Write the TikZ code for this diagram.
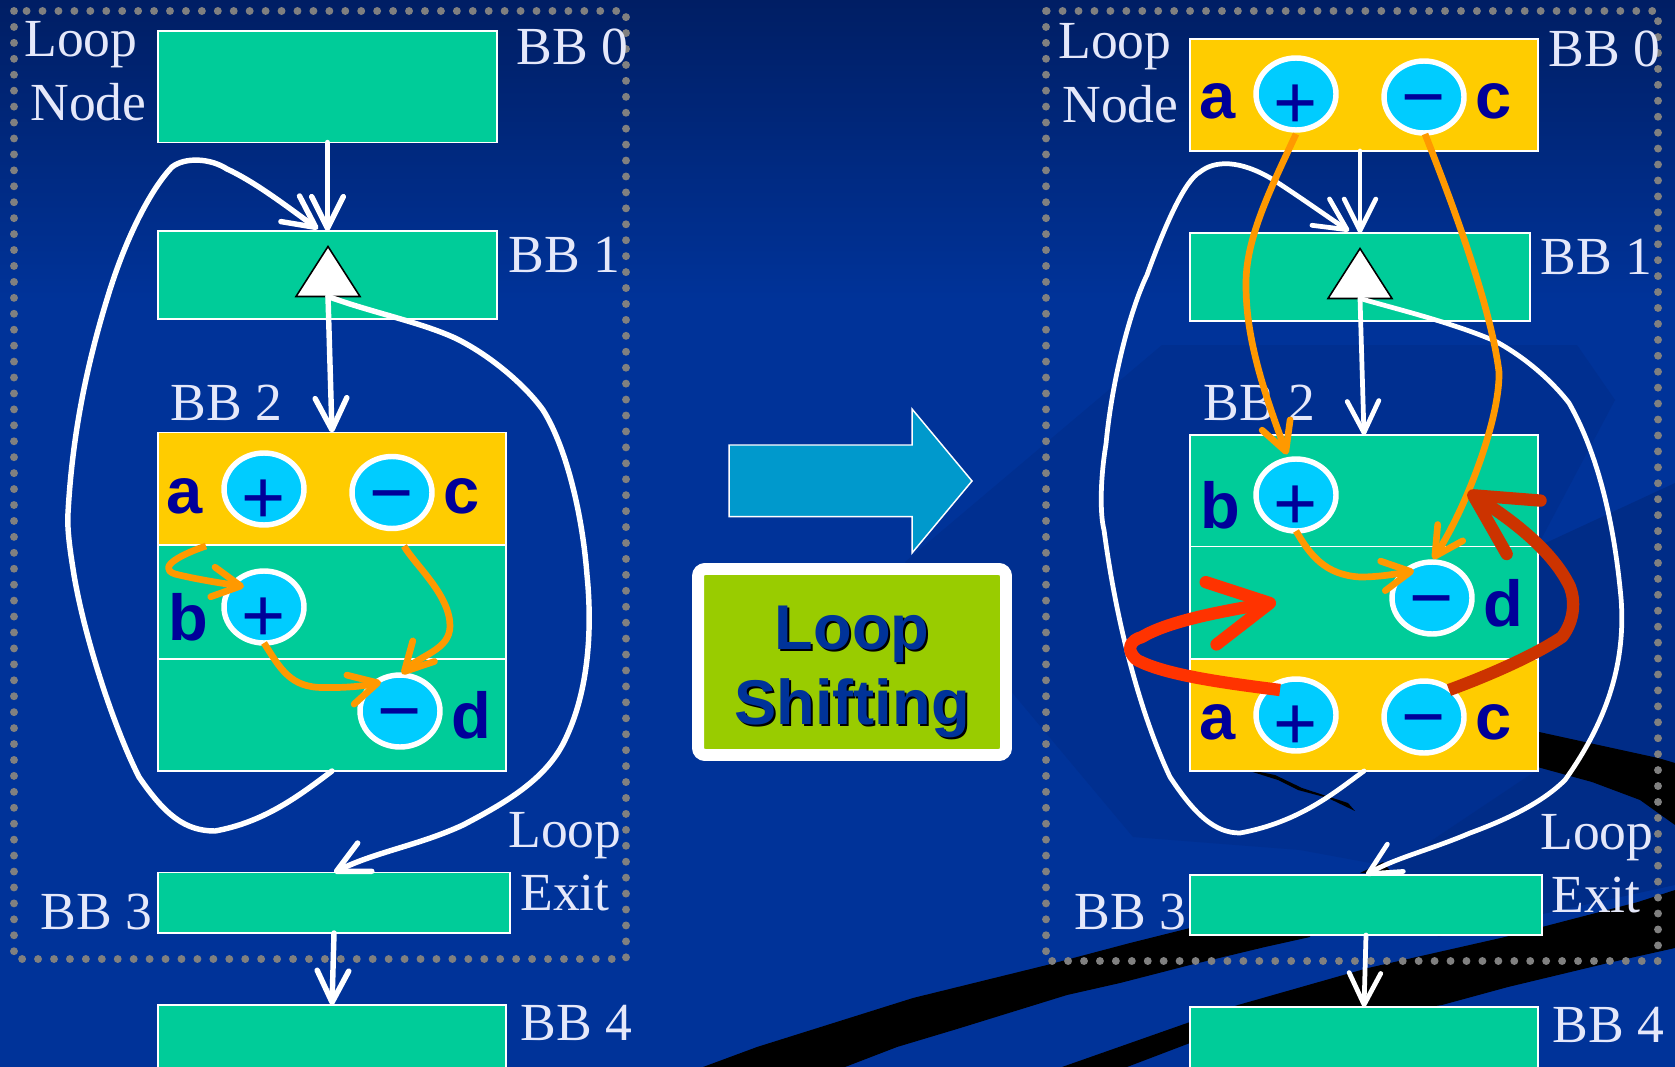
\documentclass[tikz,border=0pt]{standalone}
\usepackage{fontspec}
\usepackage{tikz}
\usetikzlibrary{shapes.geometric, arrows.meta, calc}
\setmainfont{Liberation Serif}
\newfontfamily\arialfont{Liberation Sans}
\definecolor{mybg}{RGB}{0,51,153}
\definecolor{mybgtop}{RGB}{0,30,100}
\definecolor{mybgdark}{RGB}{0,47,144}
\definecolor{mybgdeep}{RGB}{0,44,135}
\definecolor{mygreen}{RGB}{0,204,153}
\definecolor{myyellow}{RGB}{255,204,0}
\definecolor{mycyan}{RGB}{0,204,255}
\definecolor{mynavy}{RGB}{0,0,153}
\definecolor{myorange}{RGB}{255,153,0}
\definecolor{myred}{RGB}{255,51,0}
\definecolor{mydarkred}{RGB}{204,51,0}
\definecolor{myteal}{RGB}{0,153,204}
\definecolor{mylime}{RGB}{153,204,0}
\definecolor{mygrey}{RGB}{128,128,128}
\definecolor{mytext}{RGB}{229,232,250}
\tikzset{
  greenblock/.style={rectangle, draw=white, fill=mygreen,
    line width=0.9pt, inner sep=0pt, outer sep=0pt},
  yellowblock/.style={greenblock, fill=myyellow},
  bbtext/.style={anchor=base west, inner sep=0pt, text=mytext,
    font=\fontsize{30.5}{36}\selectfont},
  lettertext/.style={anchor=base, inner sep=0pt, text=mynavy,
    font=\arialfont\bfseries\fontsize{37}{44}\selectfont},
  opnode/.style={ellipse, draw=white, fill=mycyan, line width=3.1pt,
    minimum width=1.6cm, minimum height=1.44cm, inner sep=0pt, outer sep=0pt},
  signtext/.style={inner sep=0pt, text=mynavy,
    font=\arialfont\fontsize{43}{50}\selectfont},
  plusop/.style={opnode, label={[signtext, yshift=-7pt]center:+}},
  minusop/.style={opnode, label={[signtext, yshift=-6.7pt]center:\char"2212}},
  joinmark/.style={isosceles triangle, isosceles triangle stretches,
    shape border rotate=90, draw=black, fill=white, line width=0.9pt,
    minimum width=1.28cm, minimum height=1cm, inner sep=0pt, outer sep=0pt, anchor=apex},
  wire/.style={draw=white, line width=3.1pt, line cap=round, line join=round,
    -{Straight Barb[length=18pt, width=18pt, round]}},
  thinwire/.style={wire, line width=2.7pt},
  orangewire/.style={draw=myorange, line width=3.8pt, line join=round,
    -{Straight Barb[length=16pt, width=17pt, round]}},
  redwire/.style={draw=myred, line width=7pt, line join=round,
    -{Straight Barb[length=34pt, width=36pt, round]}},
  darkredwire/.style={redwire, draw=mydarkred},
  dotbox/.style={draw=mygrey, line width=4.5pt, line cap=round,
    dash pattern=on 0pt off 9.07pt},
  titletext/.style={align=center, inner sep=0pt,
    font=\arialfont\bfseries\fontsize{36}{42.6}\selectfont}
}
\begin{document}
\begin{tikzpicture}[x=0.02cm, y=-0.02cm]
  \useasboundingbox (0,0) rectangle (1675,1067);
  \clip (0,0) rectangle (1675,1067);
  % Background
  \fill[mybg] (0,0) rectangle (1675,1067);
  \shade[top color=mybgtop, bottom color=mybg] (0,0) rectangle (1675,300);
  \fill[mybgdark] (1162,345) -- (1577,345) -- (1615,400) -- (1537,547)
    -- (1537,770) -- (1392,867) -- (1300,850) -- (1133,837) -- (1010,690)
    -- (905,562) -- cycle;
  \fill[mybgdeep] (1537,547) -- (1675,483) -- (1675,885) -- (1438,937) -- (1392,867)
    -- (1537,770) -- cycle;
  % Black bands
  \fill[black] (703,1067) -- (757,1047) -- (913,998) -- (1047,965) -- (1130,943)
    -- (1190,928) -- (1310,900) -- (1310,937) -- (1265,947) -- (1190,965) -- (1120,983)
    -- (1067,995) -- (957,1029) -- (897,1047) -- (845,1067) -- cycle;
  \fill[black] (1062,1067) -- (1190,1022) -- (1238,1005) -- (1368,968) -- (1505,937)
    -- (1542,927) -- (1638,902) -- (1675,890) -- (1675,948) -- (1608,963) -- (1508,987)
    -- (1442,1005) -- (1190,1043) -- (1127,1067) -- cycle;
  \fill[black] (1530,730) -- (1658,758) -- (1675,763) -- (1675,825) -- (1640,800)
    -- (1592,782) -- (1530,765) -- cycle;
  \fill[black] (1240,768) -- (1275,775) -- (1302,788) -- (1348,803) -- (1355,811)
    -- (1328,798) -- (1298,790) -- (1278,780) -- cycle;
  \fill[black] (1360,873) -- (1383,862) -- (1392,873) -- cycle;
  % Dotted loop regions
  \draw[dotbox] (14,11) rectangle (626,959);
  \draw[dotbox] (1046,11) rectangle (1658,961);

  % Left blocks
  \node[greenblock, minimum width=6.78cm, minimum height=2.23cm] (bbzeroL) at (327.5,86.75) {};
  \node[greenblock, minimum width=6.78cm, minimum height=1.76cm] (bboneL) at (327.5,275) {};
  \node[yellowblock, minimum width=6.96cm, minimum height=2.25cm] (bbtwoaL) at (332,488.75) {};
  \node[greenblock, minimum width=6.96cm, minimum height=2.28cm] (bbtwobL) at (332,602) {};
  \node[greenblock, minimum width=6.96cm, minimum height=2.24cm] (bbtwocL) at (332,715) {};
  \node[greenblock, minimum width=7.04cm, minimum height=1.21cm] (bbthreeL) at (334,902.75) {};
  \node[greenblock, minimum width=6.96cm, minimum height=1.4cm] (bbfourL) at (332,1040) {};
  % Right blocks
  \node[yellowblock, minimum width=6.96cm, minimum height=2.24cm] (bbzeroR) at (1364,95) {};
  \node[greenblock, minimum width=6.8cm, minimum height=1.76cm] (bboneR) at (1360,277) {};
  \node[greenblock, minimum width=6.96cm, minimum height=2.23cm] (bbtwoaR) at (1364,490.75) {};
  \node[greenblock, minimum width=6.96cm, minimum height=2.25cm] (bbtwobR) at (1364,602.75) {};
  \node[yellowblock, minimum width=6.96cm, minimum height=2.24cm] (bbtwocR) at (1364,715) {};
  \node[greenblock, minimum width=7.04cm, minimum height=1.2cm] (bbthreeR) at (1366,905) {};
  \node[greenblock, minimum width=6.96cm, minimum height=1.4cm] (bbfourR) at (1364,1042) {};

  % Left labels
  \node[bbtext] (loopnL) at (24,57) {Loop};
  \node[bbtext] (nodeL) at (30,121) {Node};
  \node[bbtext] (tzeroL) at (516,64.5) {BB 0};
  \node[bbtext] (toneL) at (508,273) {BB 1};
  \node[bbtext] (ttwoL) at (170,420) {BB 2};
  \node[bbtext] (loopxL) at (508,847) {Loop};
  \node[bbtext] (exitL) at (520,910) {Exit};
  \node[bbtext] (tthreeL) at (40,929) {BB 3};
  \node[bbtext] (tfourL) at (520,1040) {BB 4};
  % Right labels
  \node[bbtext] (loopnR) at (1058,59) {Loop};
  \node[bbtext] (nodeR) at (1062,123) {Node};
  \node[bbtext] (tzeroR) at (1548,66.5) {BB 0};
  \node[bbtext] (toneR) at (1540,275) {BB 1};
  \node[bbtext] (ttwoR) at (1203,420) {BB 2};
  \node[bbtext] (loopxR) at (1540,849) {Loop};
  \node[bbtext] (exitR) at (1551,912) {Exit};
  \node[bbtext] (tthreeR) at (1074,929) {BB 3};
  \node[bbtext] (tfourR) at (1552,1042) {BB 4};

  % Loop marks
  \node[joinmark] (markL) at (328,246.5) {};
  \node[joinmark] (markR) at (1360,248.5) {};

  % Left connectors
  \draw[wire] (bbzeroL.south) -- (bboneL.north);
  \draw[wire] (markL.lower side) -- (bbtwoaL.north);
  \draw[wire] (bbthreeL.south) -- (bbfourL.north);
  \coordinate (backL) at (318,229);
  \draw[wire] (bbtwocL.south)
    .. controls (300,795) and (265,822) .. (215,831)
    .. controls (185,831) and (165,815) .. (139,777)
    .. controls (115,730) and (85,640) .. (74,575)
    .. controls (70,550) and (67,530) .. (68,513)
    .. controls (72,440) and (85,370) .. (108,296)
    .. controls (125,240) and (150,190) .. (172,167)
    .. controls (185,157) and (210,158) .. (227,169)
    .. controls (255,182) and (285,205) .. (backL);
  \draw[wire] (markL.lower side)
    .. controls (370,312) and (420,322) .. (455,338)
    .. controls (490,355) and (525,385) .. (543,410)
    .. controls (565,445) and (582,510) .. (587,575)
    .. controls (592,625) and (590,690) .. (564,742)
    .. controls (545,780) and (505,803) .. (463,825)
    .. controls (420,845) and (375,852) .. (bbthreeL.north);

  % Right connectors
  \draw[thinwire] (bbzeroR.south -| bboneR.north) -- (bboneR.north);
  \draw[thinwire] (markR.lower side) -- (bbtwoaR.north);
  \draw[thinwire] (bbthreeR.south) -- (bbfourR.north);
  \coordinate (backR) at (1349,231);
  \draw[thinwire] (bbtwocR.south)
    .. controls (1335,792) and (1300,822) .. (1240,833)
    .. controls (1215,833) and (1195,815) .. (1170,777)
    .. controls (1150,735) and (1120,650) .. (1104,530)
    .. controls (1100,515) and (1100,480) .. (1106,444)
    .. controls (1112,380) and (1130,310) .. (1147,275)
    .. controls (1165,225) and (1185,180) .. (1200,172)
    .. controls (1215,160) and (1240,160) .. (1272,179)
    .. controls (1300,197) and (1325,215) .. (backR);
  \draw[thinwire] (markR.lower side)
    .. controls (1400,310) and (1450,322) .. (1495,341)
    .. controls (1530,360) and (1555,385) .. (1569,403)
    .. controls (1590,440) and (1612,500) .. (1621,598)
    .. controls (1625,650) and (1615,710) .. (1565,780)
    .. controls (1540,805) and (1500,822) .. (1470,833)
    .. controls (1430,850) and (1395,858) .. (bbthreeR.north);

  % Left operations
  \node[plusop] (addaL) at (264,489) {};
  \node[minusop] (subcL) at (392,492.5) {};
  \node[plusop] (addbL) at (264,607) {};
  \node[minusop] (subdL) at (400,711) {};
  \node[lettertext] (aL) at (185,513) {a};
  \node[lettertext] (cL) at (462,513) {c};
  \node[lettertext] (bL) at (188,640) {b};
  \node[lettertext] (dL) at (471,738) {d};
  % Right operations
  \node[plusop] (addaR) at (1296,94) {};
  \node[minusop] (subcR) at (1424,97) {};
  \node[plusop] (addbR) at (1296,495) {};
  \node[minusop] (subdR) at (1432,598) {};
  \node[plusop] (addcR) at (1296,715) {};
  \node[minusop] (subeR) at (1424,717) {};
  \node[lettertext] (aR) at (1218,119) {a};
  \node[lettertext] (cR) at (1494,119) {c};
  \node[lettertext] (bR) at (1220,528.5) {b};
  \node[lettertext] (dR) at (1503,626.5) {d};
  \node[lettertext] (anewR) at (1218,739) {a};
  \node[lettertext] (cnewR) at (1494,739) {c};

  % Dependences, left
  \coordinate (aoutL) at (206,546);
  \coordinate (coutL) at (404,546);
  \draw[orangewire] (aoutL) .. controls (185,553) and (155,567) .. (175,574)
    .. controls (195,579) and (220,583) .. ($(addbL)+(-20,-20.5)$);
  \draw[orangewire] (coutL) .. controls (415,565) and (450,595) .. (450,626)
    .. controls (450,650) and (420,655) .. ($(subdL)+(2,-37)$);
  \draw[orangewire] ($(addbL)+(0,36)$) .. controls (280,668) and (290,688) .. (324,687.5)
    .. controls (345,688) and (365,686) .. ($(subdL)+(-19,-29)$);
  % Dependences, right
  \draw[orangewire] ($(addaR)+(0,40)$) .. controls (1270,190) and (1245,240) .. (1246,286)
    .. controls (1246,340) and (1265,395) .. ($(addbR)+(-9,-40.5)$);
  \draw[orangewire] ($(subcR)+(1,37)$) .. controls (1445,185) and (1490,300) .. (1499,372)
    .. controls (1500,420) and (1465,510) .. ($(subdR)+(1,-39)$);
  \draw[orangewire] ($(addbR)+(0,36)$) .. controls (1310,555) and (1325,575) .. (1360,577)
    .. controls (1380,577) and (1395,574) .. ($(subdR)+(-18,-27)$);
  % Moved operations
  \draw[redwire] ($(addcR)+(-16,-25)$) .. controls (1225,683) and (1165,675) .. (1137,660)
    .. controls (1125,650) and (1130,640) .. (1142,637)
    .. controls (1170,620) and (1230,610) .. (1276,602);
  \draw[darkredwire] ($(subeR)+(25,-27)$) .. controls (1490,675) and (1535,655) .. (1562,637)
    .. controls (1575,620) and (1575,600) .. (1570,587)
    .. controls (1555,555) and (1520,525) .. (1468,492);

  % Shift arrow
  \draw[draw=white, fill=myteal, line width=0.85pt, line join=miter]
    (729,445) -- (912,445) -- (912,409) -- (972,481) -- (912,553) -- (912,516.5)
    -- (729,516.5) -- cycle;
  % Title box
  \node[draw=white, fill=mylime, line width=6.8pt, rounded corners=4pt, inner sep=0pt,
    minimum width=6.16cm, minimum height=3.72cm] (titlebox) at (852,662) {};
  \node[titletext, text=black] (titledrop) at (854,674) {Loop\\Shifting};
  \node[titletext, text=mybg] (title) at (852,672) {Loop\\Shifting};
\end{tikzpicture}
\end{document}
